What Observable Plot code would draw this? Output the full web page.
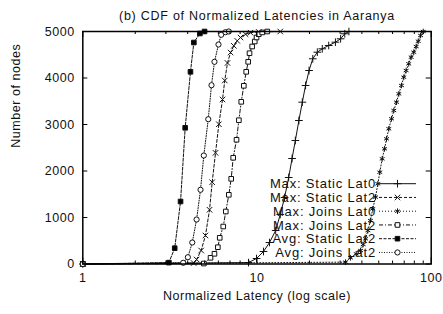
<!DOCTYPE html>
<html>
<head>
<meta charset="utf-8">
<script src="https://cdn.jsdelivr.net/npm/d3@7"></script>
<script src="https://cdn.jsdelivr.net/npm/@observablehq/plot@0.6"></script>
<style>
  html, body { margin: 0; padding: 0; background: #fff; }
  svg text { font-family: "Liberation Sans", Arial, Helvetica, sans-serif; letter-spacing: 0.55px; fill: #111; }
  svg text.title-text { letter-spacing: 0.75px; }
</style>
</head>
<body>
<div id="chart"></div>
<script>
// ---- data ----
const title = "(b) CDF of Normalized Latencies in Aaranya";
const xLabel = "Normalized Latency (log scale)";
const yLabel = "Number of nodes";
const xTickLabels = [1, 10, 100];
const xMinorTicks = [2,3,4,5,6,7,8,9,20,30,40,50,60,70,80,90];
const yTicks = [0, 1000, 2000, 3000, 4000, 5000];
const seriesNames = ["Max: Static Lat0", "Max: Static Lat2", "Max: Joins Lat0", "Max: Joins Lat2", "Avg: Static Lat2", "Avg: Joins Lat2"];

const maxStaticLat0 = [[1,0],[8.94,30],[9.94,118],[10.9,269],[11.8,462],[12.8,720],[13.6,1065],[14.4,1430],[15.2,1860],[15.9,2269],[16.6,2656],[17.4,3086],[18.2,3480],[19.0,3839],[19.9,4161],[20.9,4413],[22.2,4555],[23.7,4628],[25.8,4699],[28.2,4770],[30.2,4843],[31.9,4951],[33.7,5000]];
const maxStaticLat2 = [[1,0],[4.33,20],[4.50,97],[4.78,290],[5.06,613],[5.34,1166],[5.53,1759],[5.78,2391],[6.04,3006],[6.34,3538],[6.53,3946],[6.77,4323],[7.05,4548],[7.36,4692],[7.70,4800],[8.04,4871],[8.59,4942],[9.18,4975],[10.24,4990],[13.6,5000]];
const maxJoinsLat0 = [[1,0],[32.2,40],[34.4,133],[37.1,219],[39.3,290],[40.7,419],[42.0,542],[43.3,720],[44.8,935],[46.2,1187],[47.9,1437],[49.4,1725],[50.7,1974],[52.3,2262],[54.0,2477],[55.4,2692],[57.1,2908],[59.2,3123],[61.0,3301],[63.2,3480],[65.2,3660],[67.5,3839],[69.6,4017],[71.8,4161],[74.3,4305],[76.7,4447],[79.4,4555],[82.0,4677],[84.2,4791],[86.9,4914],[90.0,5000]];
const maxJoinsLat2 = [[1,0],[4.95,10],[5.41,133],[5.70,219],[5.96,361],[6.11,563],[6.40,806],[6.62,1129],[6.89,1488],[7.11,1832],[7.30,2284],[7.63,2671],[7.87,3092],[8.12,3488],[8.40,3832],[8.67,4133],[8.90,4348],[9.06,4533],[9.38,4677],[9.71,4785],[9.94,4871],[10.24,4942],[10.71,4980],[11.45,5000]];
const avgStaticLat2 = [[1,0],[3.12,30],[3.37,340],[3.64,1344],[3.87,2929],[4.15,4133],[4.34,4763],[4.70,4957],[5.0,5000]];
const avgJoinsLat2 = [[1,0],[3.77,26],[4.01,146],[4.25,462],[4.50,957],[4.74,1596],[4.95,2333],[5.25,3114],[5.48,3845],[5.70,4348],[6.01,4720],[6.23,4929],[6.59,4985],[6.89,5000]];

// ---- styles ----
const seriesValues = [maxStaticLat0, maxStaticLat2, maxJoinsLat0, maxJoinsLat2, avgStaticLat2, avgJoinsLat2];
const dashes = [null, "3,2", "1,2", "4,2,1,2", "3,1.5", "1,1.5"];
const symbols = ["plus", "times", "asterisk", "square", "square", "circle"];
const fills = ["none", "none", "none", "white", "black", "white"];
const d3Symbols = {plus: d3.symbolPlus, times: d3.symbolTimes, asterisk: d3.symbolAsterisk, square: d3.symbolSquare, circle: d3.symbolCircle};

const W = 443, H = 314;
const mL = 82.3, mR = 12.3, mT = 31, mB = 50.5;
const frameW = W - mL - mR, frameH = H - mT - mB;
const R = 2.6;

const series = seriesNames.map((name, i) => ({
  name, dash: dashes[i], symbol: symbols[i], fill: fills[i],
  data: seriesValues[i].map(([x, y]) => ({x, y}))
}));

const marks = [];
for (const s of series) {
  marks.push(Plot.line(s.data, {x: "x", y: "y", stroke: "#111", strokeWidth: 1, strokeDasharray: s.dash}));
}
for (const s of series) {
  marks.push(Plot.dot(s.data, {x: "x", y: "y", symbol: () => s.symbol, r: R, stroke: "#111", strokeWidth: 1, fill: s.fill}));
}
// ticks inside frame
marks.push(Plot.tickX(xTickLabels, {x: d => d, insetTop: frameH - 6, stroke: "black"}));
marks.push(Plot.tickX(xTickLabels, {x: d => d, insetBottom: frameH - 6, stroke: "black"}));
marks.push(Plot.tickX(xMinorTicks, {x: d => d, insetTop: frameH - 3, stroke: "black"}));
marks.push(Plot.tickX(xMinorTicks, {x: d => d, insetBottom: frameH - 3, stroke: "black"}));
marks.push(Plot.tickY(yTicks, {y: d => d, insetRight: frameW - 5, stroke: "black"}));
marks.push(Plot.tickY(yTicks, {y: d => d, insetLeft: frameW - 5, stroke: "black"}));
marks.push(Plot.frame({stroke: "black", strokeWidth: 1.5}));
// tick labels
marks.push(Plot.axisX(xTickLabels, {anchor: "bottom", tickSize: 0, tickPadding: 9, tickFormat: d => String(d), fontSize: 12.5, label: null}));
marks.push(Plot.axisY(yTicks, {anchor: "left", tickSize: 0, tickPadding: 8, tickFormat: d => String(d), fontSize: 12.5, label: null}));
// titles
marks.push(Plot.text([title], {frameAnchor: "top", dy: -20, fontSize: 12.5, className: "title-mark"}));
marks.push(Plot.text([xLabel], {frameAnchor: "bottom", dy: 36, fontSize: 12.5}));
marks.push(Plot.text([yLabel], {frameAnchor: "left", dx: -67, rotate: -90, fontSize: 12.5}));

const chart = Plot.plot({
  width: W, height: H,
  marginLeft: mL, marginRight: mR, marginTop: mT, marginBottom: mB,
  style: {background: "white", overflow: "visible"},
  x: {type: "log", domain: [1, 100], axis: null},
  y: {domain: [0, 5000], axis: null},
  marks
});

// widen the title slightly, as in the reference
d3.select(chart).selectAll("text").filter(function() { return this.textContent === title; }).classed("title-text", true);

// legend (inside plot area, lower right)
const svg = d3.select(chart);
const lg = svg.append("g").attr("class", "legend");
const textRight = 376, lineX1 = 379, lineX2 = 416, rowY0 = 183.7, rowStep = 13.75;
series.forEach((s, i) => {
  const y = rowY0 + i * rowStep;
  lg.append("text").attr("x", textRight).attr("y", y).attr("dy", "0.35em")
    .attr("text-anchor", "end").attr("font-size", 13).style("letter-spacing", "0.8px").text(s.name);
  lg.append("line").attr("x1", lineX1).attr("x2", lineX2).attr("y1", y).attr("y2", y)
    .attr("stroke", "#111").attr("stroke-width", 1).attr("stroke-dasharray", s.dash);
  lg.append("path").attr("transform", `translate(${(lineX1 + lineX2) / 2},${y})`)
    .attr("d", d3.symbol(d3Symbols[s.symbol], R * R * Math.PI)())
    .attr("stroke", "#111").attr("fill", s.fill);
});

document.getElementById("chart").appendChild(chart);
</script>
</body>
</html>
